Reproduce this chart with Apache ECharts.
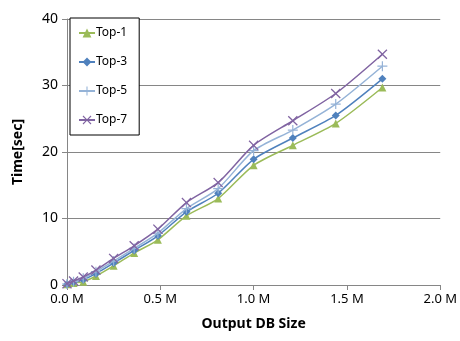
<!DOCTYPE html>
<html>
<head>
<meta charset="utf-8">
<script src="https://cdn.jsdelivr.net/npm/echarts@6/dist/echarts.min.js"></script>
<style>
    html, body { margin: 0; padding: 0; background: #fff; }
    #chart { width: 460px; height: 341px; }
</style>
</head>
<body>
<div id="chart"></div>
<script>
// output DB size in millions
const sizes = [0, 0.035, 0.087, 0.155, 0.25, 0.36, 0.487, 0.64, 0.81, 1.0, 1.21, 1.44, 1.69]
const top1 = [0.1, 0.3, 0.5, 1.35, 2.9, 4.8, 6.8, 10.4, 13.0, 18.0, 21.0, 24.3, 29.7]
const top3 = [0.1, 0.4, 0.8, 1.7, 3.3, 5.2, 7.4, 11.0, 13.8, 18.9, 22.1, 25.5, 31.0]
const top5 = [0.15, 0.5, 1.0, 2.0, 3.6, 5.5, 7.8, 11.5, 14.5, 20.2, 23.3, 27.2, 32.9]
const top7 = [0.2, 0.6, 1.2, 2.25, 4.0, 5.9, 8.4, 12.4, 15.4, 21.0, 24.7, 28.8, 34.7]
const seriesNames = ['Top-1', 'Top-3', 'Top-5', 'Top-7']
const colors = ['#9BBB59', '#4F81BD', '#95B3D7', '#8064A2']

const plusPath = 'path://M4.4,0 H5.6 V4.4 H10 V5.6 H5.6 V10 H4.4 V5.6 H0 V4.4 H4.4 Z'
const crossPath = 'path://M0,0.9 L0.9,0 L5,4.1 L9.1,0 L10,0.9 L5.9,5 L10,9.1 L9.1,10 L5,5.9 L0.9,10 L0,9.1 L4.1,5 Z'
const symbols = ['triangle', 'diamond', plusPath, crossPath]
const symbolSizes = [8, 8, 10, 10]

const chart = echarts.init(document.getElementById('chart'))

const makeSeries = (i, values) => ({
    name: seriesNames[i],
    type: 'line',
    data: sizes.map((s, k) => [s, values[k]]),
    smooth: 0.25,
    symbol: symbols[i],
    symbolSize: symbolSizes[i],
    showAllSymbol: true,
    lineStyle: { color: colors[i], width: 1.5 },
    itemStyle: { color: colors[i] },
    z: 2 + i
})

const option = {
    animation: false,
    textStyle: { fontFamily: 'Noto Sans', color: '#000' },
    grid: { left: 67, right: 19, top: 19, bottom: 56 },
    legend: {
        orient: 'vertical',
        left: 70,
        top: 18,
        itemGap: 17,
        itemWidth: 16,
        itemHeight: 11,
        padding: [9, 12, 9, 8],
        backgroundColor: '#fff',
        borderColor: '#000',
        borderWidth: 1,
        borderRadius: 0,
        textStyle: { fontSize: 12, color: '#000', padding: [0, 0, 0, -4] },
        data: seriesNames
    },
    xAxis: {
        type: 'value',
        min: 0,
        max: 2,
        interval: 0.5,
        name: 'Output DB Size',
        nameLocation: 'middle',
        nameGap: 32,
        nameTextStyle: { fontSize: 14, fontWeight: 'bold', color: '#000' },
        axisLine: { lineStyle: { color: '#868686' } },
        axisTick: { show: true, length: 5, lineStyle: { color: '#868686' } },
        axisLabel: {
            fontSize: 13,
            color: '#000',
            margin: 8,
            formatter: v => v.toFixed(1) + ' M'
        },
        splitLine: { show: false }
    },
    yAxis: {
        type: 'value',
        min: 0,
        max: 40,
        interval: 10,
        name: 'Time[sec]',
        nameLocation: 'middle',
        nameGap: 42,
        nameTextStyle: { fontSize: 14, fontWeight: 'bold', color: '#000' },
        axisLine: { show: true, lineStyle: { color: '#868686' } },
        axisTick: { show: true, length: 5, lineStyle: { color: '#868686' } },
        axisLabel: { fontSize: 14, color: '#000', margin: 9 },
        splitLine: { show: true, lineStyle: { color: '#868686', width: 1 } }
    },
    series: [
        makeSeries(0, top1),
        makeSeries(1, top3),
        makeSeries(2, top5),
        makeSeries(3, top7)
    ]
}

chart.setOption(option)
</script>
</body>
</html>
